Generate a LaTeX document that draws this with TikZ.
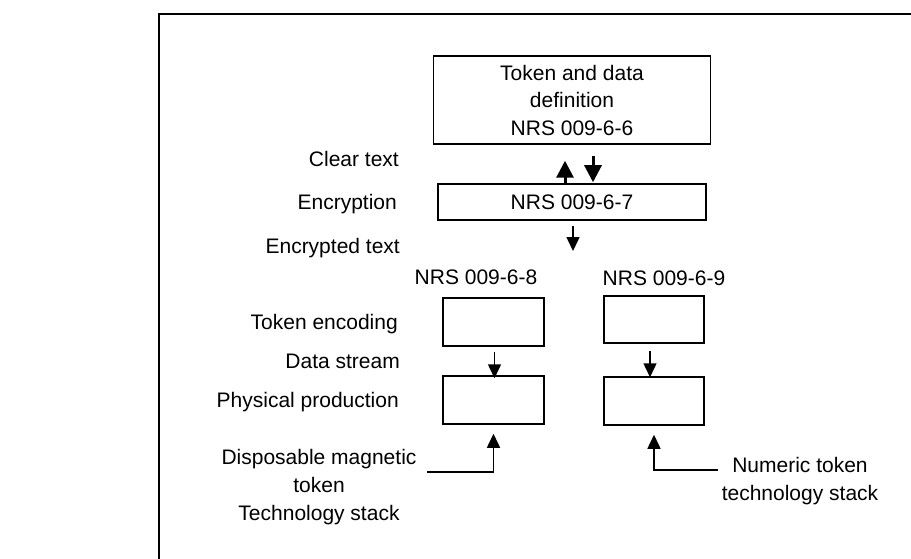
\documentclass[tikz,border=0pt]{standalone}
\usepackage{fontspec}
\setmainfont{Liberation Sans}
\usetikzlibrary{arrows.meta,positioning,calc}

\begin{document}
\begin{tikzpicture}[
  x=1pt, y=-1pt,
  lbl/.style={font=\fontsize{21}{28}\selectfont, inner sep=0pt, align=center},
  nrs/.style={font=\fontsize{21}{28}\selectfont, inner sep=0pt},
  box/.style={draw, line width=1.5pt, inner sep=0pt},
  arrow/.style={line width=1.5pt, -{Triangle[length=14pt, width=13pt]}},
  bigarrow/.style={line width=3pt, -{Triangle[length=17pt, width=17pt]}}
]
\useasboundingbox (0,0) rectangle (911,559);

% frame
\draw[line width=2pt] (159,559) -- (159,14) -- (911,14);

% boxes
\node[box, minimum width=277pt, minimum height=88pt, align=center,
      font=\fontsize{21}{27.5}\selectfont] (tokdef) at (572,100)
  {Token and data\\definition\\NRS 009-6-6};
\node[box, nrs, minimum width=268pt, minimum height=36pt] (encbox) at (572,202) {NRS 009-6-7};
\node[nrs] (nrs8) at (476,277) {NRS 009-6-8};
\node[nrs] (nrs9) at (664,278) {NRS 009-6-9};
\node[box, minimum width=101pt, minimum height=48pt] (encode8) at (493.5,322) {};
\node[box, minimum width=101pt, minimum height=48pt] (prod8) at (493.5,400) {};
\node[box, minimum width=100pt, minimum height=47pt] (encode9) at (654,319.5) {};
\node[box, minimum width=100pt, minimum height=48pt] (prod9) at (654,401) {};

% labels
\node[lbl, anchor=base east] (clear) at (399,167) {Clear text};
\node[lbl, anchor=base east] (encr) at (397,209) {Encryption};
\node[lbl, anchor=base east] (crypt) at (400,253) {Encrypted text};
\node[lbl, anchor=base east] (tenc) at (398,329) {Token encoding};
\node[lbl, anchor=base east] (dstream) at (400,368) {Data stream};
\node[lbl, anchor=base east] (phys) at (399,407) {Physical production};
\node[lbl] (magstack) at (319,487) {Disposable magnetic\\token\\Technology stack};
\node[lbl] (numstack) at (800,481) {Numeric token\\technology stack};

% arrows
\draw[bigarrow, shorten >=16pt] ([xshift=-7pt]encbox.north) -- ([xshift=-7pt]tokdef.south);
\draw[bigarrow, shorten <=11pt, shorten >=1pt] ([xshift=21pt]tokdef.south) -- ([xshift=21pt]encbox.north);
\coordinate (enctip) at (573,251);
\draw[arrow, shorten <=5pt] (encbox.south -| enctip) -- (enctip);
\draw[arrow, shorten <=5pt, shorten >=-3pt] ([xshift=1pt]encode8.south) -- ([xshift=1pt]prod8.north);
\draw[arrow, shorten <=7pt, shorten >=-1pt] ([xshift=-4pt]encode9.south) -- ([xshift=-4pt]prod9.north);
\coordinate (magend) at (427,472);
\coordinate (numend) at (718,470);
\draw[arrow] (magend) -| ([yshift=-9pt]prod8.south);
\draw[arrow] (numend) -| ([yshift=-9pt]prod9.south);
\end{tikzpicture}
\end{document}
